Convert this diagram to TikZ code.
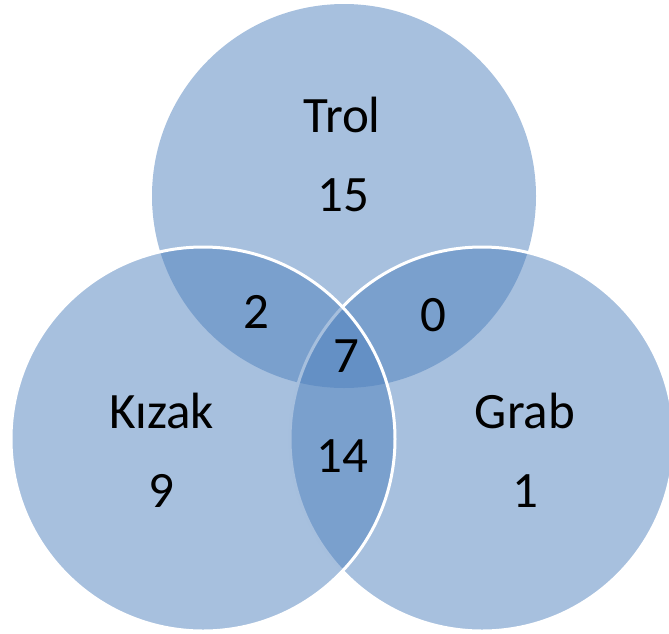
\documentclass[tikz,border=0pt]{standalone}
\usepackage{fontspec}
\setmainfont{Carlito}
\definecolor{vennblue}{RGB}{79,129,189}
\begin{document}
\begin{tikzpicture}[x=1pt,y=-1pt,
  setfill/.style={fill=vennblue, fill opacity=0.5},
  setline/.style={setfill, draw=white, line width=3pt},
  lbl/.style={font=\fontsize{51}{60}\selectfont, anchor=base, inner sep=0pt, text=black}]
\useasboundingbox (0,0) rectangle (669,633);
\clip (0,0) rectangle (669,633);
% circles: Trol (top), Grab (right), Kizak (left)
\path[setfill] (344,196) circle[radius=192pt];
\path[setline] (482,439) circle[radius=192pt];
\path[setline] (203,439) circle[radius=192pt];
% labels
\node[lbl] (trol) at (342,132) {Trol};
\node[lbl] (ntrol) at (343,211) {15};
\node[lbl] (kizak) at (162,428) {Kızak};
\node[lbl] (nkizak) at (161,507) {9};
\node[lbl] (grab) at (525,428) {Grab};
\node[lbl] (ngrab) at (525,507) {1};
\node[lbl] (tk) at (256,328) {2};
\node[lbl] (tg) at (433,331) {0};
\node[lbl] (all) at (346,372) {7};
\node[lbl] (kg) at (342,472) {14};
\end{tikzpicture}
\end{document}
